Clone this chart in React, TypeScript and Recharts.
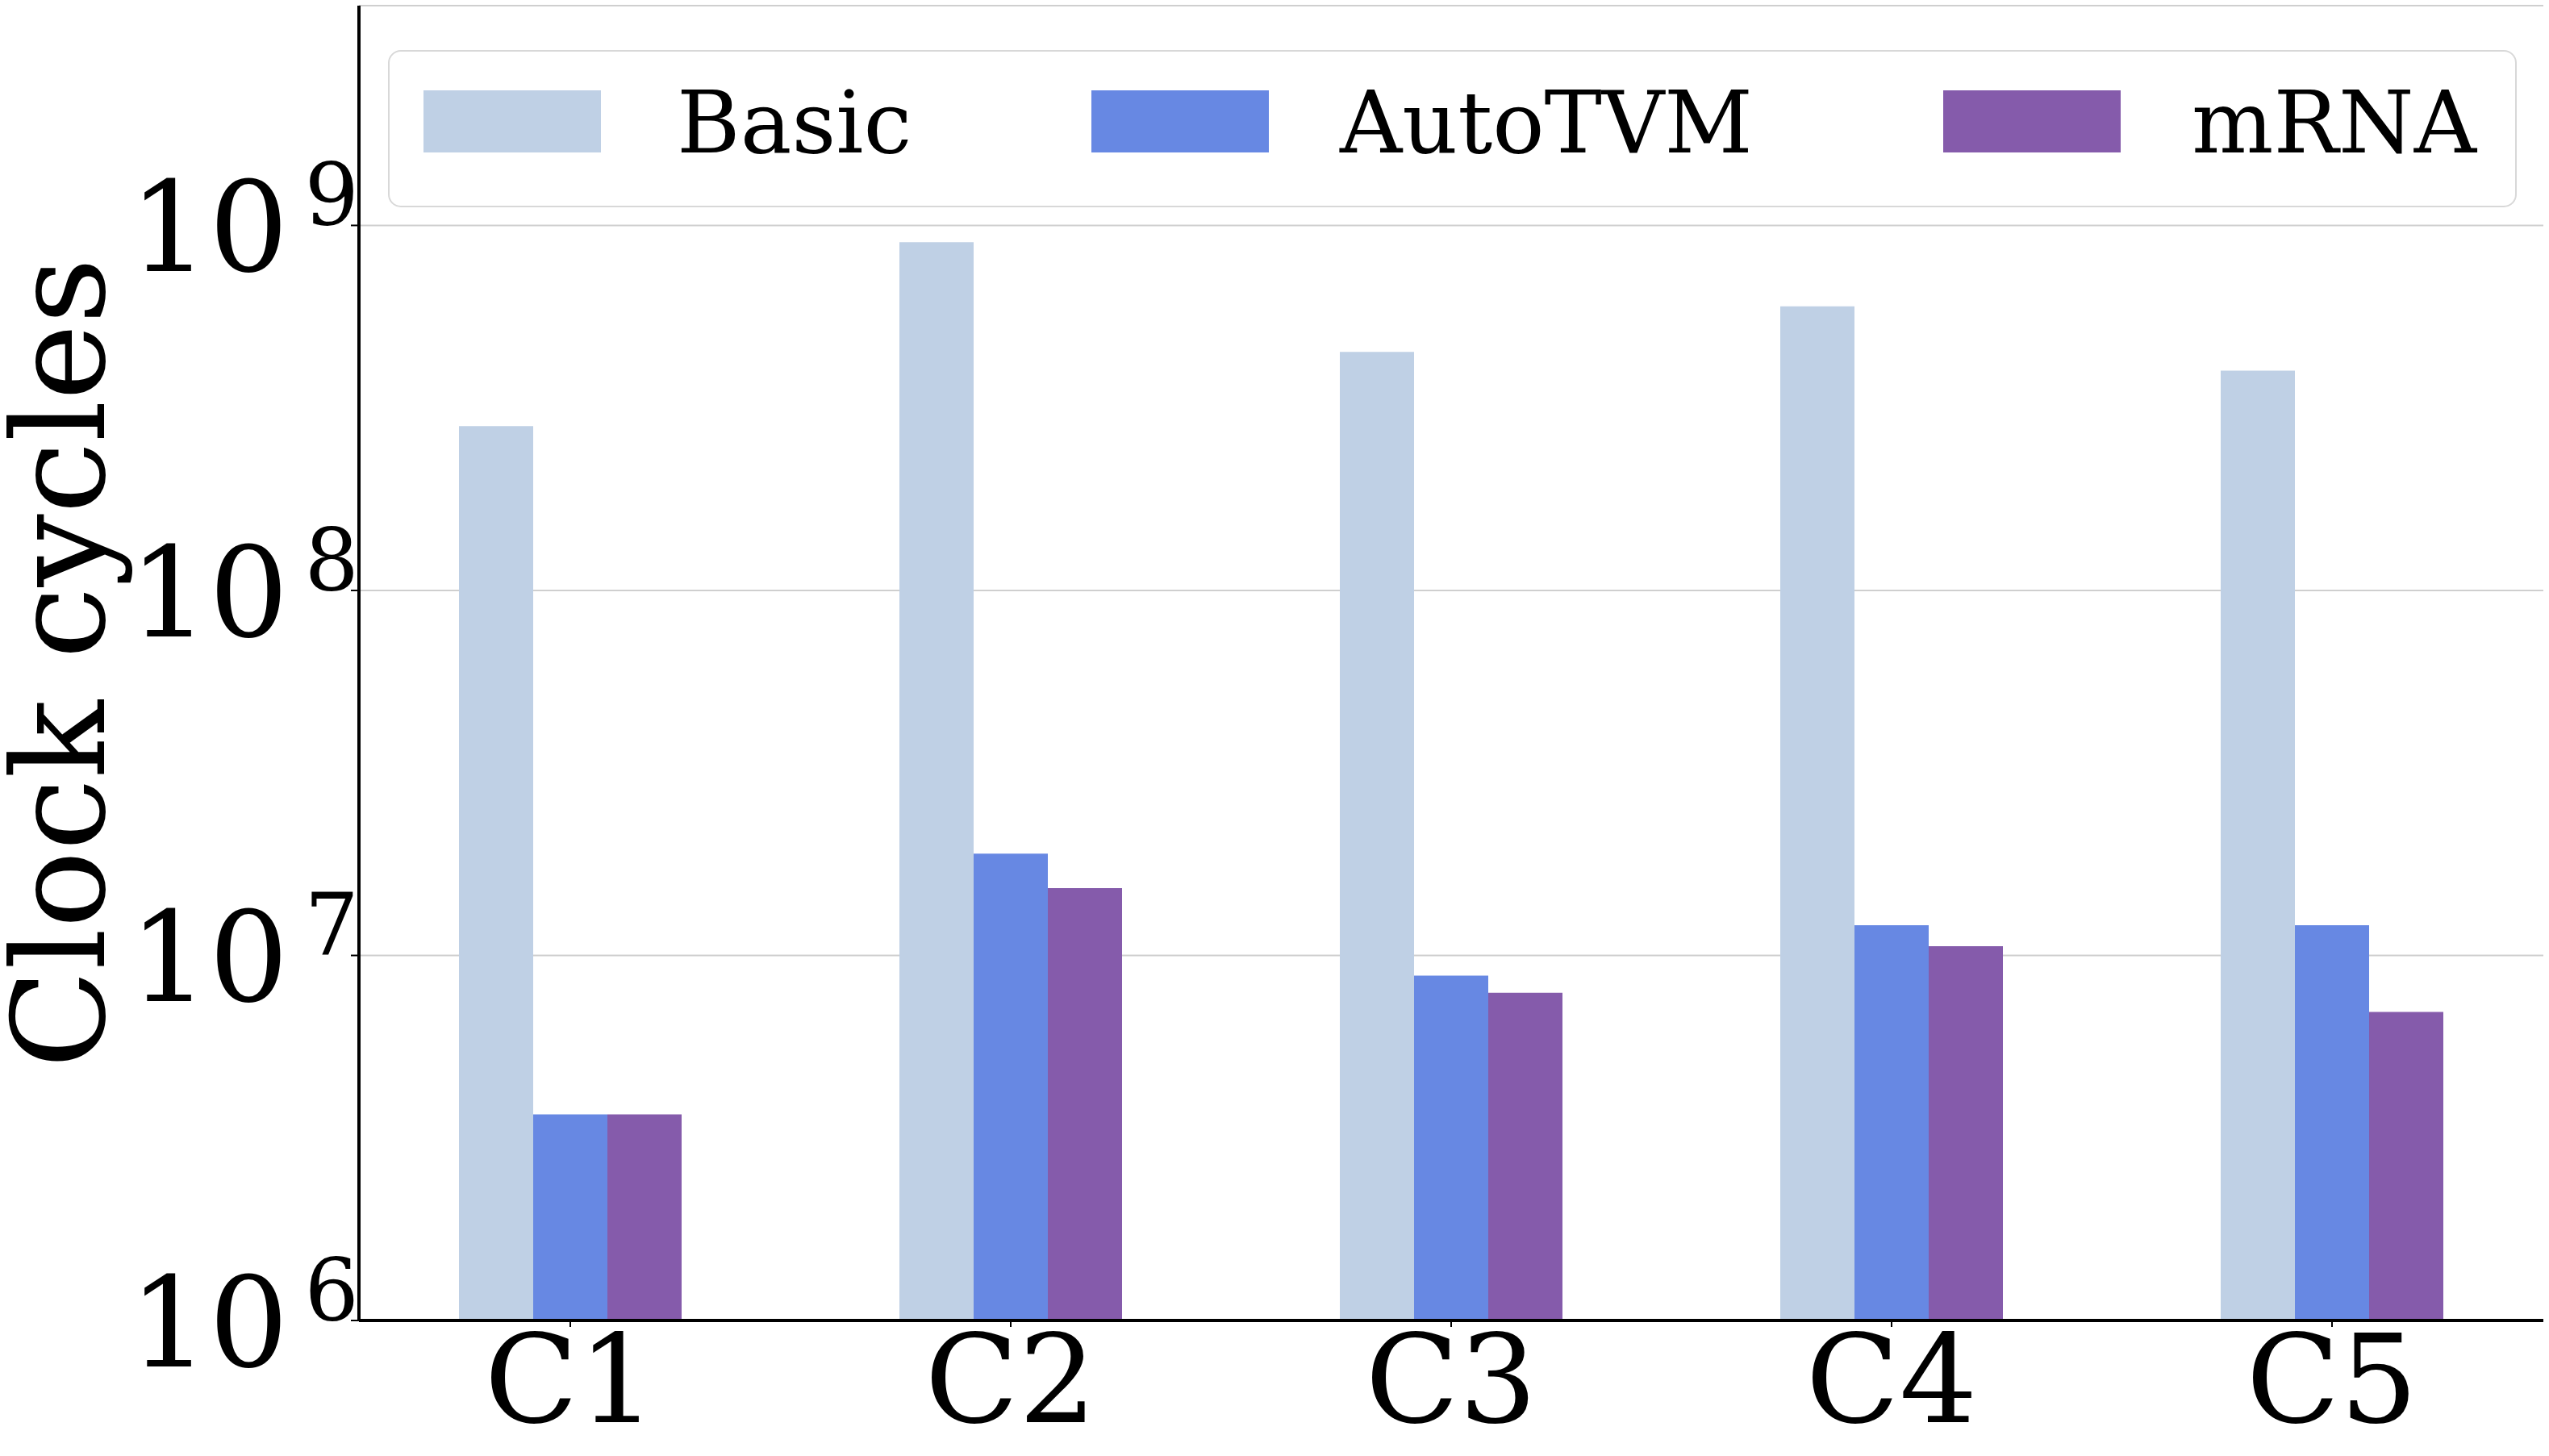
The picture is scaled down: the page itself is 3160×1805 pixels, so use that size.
import React from "react";
import { BarChart, Bar, XAxis, YAxis, CartesianGrid } from "recharts";

// values
const categories = ["C1", "C2", "C3", "C4", "C5"];
const basicCycles = [2.82e8, 9.0e8, 4.5e8, 6.0e8, 4.0e8];
const autoTvmCycles = [3.67e6, 1.9e7, 8.8e6, 1.21e7, 1.21e7];
const mrnaCycles = [3.67e6, 1.53e7, 7.9e6, 1.06e7, 7.0e6];
const yTicks = [1e6, 1e7, 1e8, 1e9];

const series = [
  { key: "basic", name: "Basic", color: "#bfd0e5" },
  { key: "autotvm", name: "AutoTVM", color: "#6788e3" },
  { key: "mrna", name: "mRNA", color: "#855bab" },
];

const data = categories.map((c, i) => ({
  name: c,
  basic: basicCycles[i],
  autotvm: autoTvmCycles[i],
  mrna: mrnaCycles[i],
}));

const FONT = "'DejaVu Serif', serif";

// legend layout (relative to legend box)
const swatchX = [42, 870, 1926];
const labelX = [356, 1178, 2234];

function LogTick(props: any) {
  const { x, y, payload } = props;
  const exp = Math.round(Math.log10(payload.value));
  return (
    <text x={x + 12} y={y + 57} textAnchor="end" fontFamily={FONT} fill="#000">
      <tspan fontSize={155}>10</tspan>
      <tspan fontSize={106} dx={20} dy={-58}>
        {exp}
      </tspan>
    </text>
  );
}

export default function App() {
  return (
    <div style={{ position: "relative", width: 3160, height: 1805, background: "#fff" }}>
      <style>{"body{margin:0}"}</style>
      <BarChart
        width={3160}
        height={1805}
        data={data}
        margin={{ top: 7, right: 7, bottom: 0, left: 0 }}
        barGap={0}
        barSize={92}
      >
        <CartesianGrid horizontal vertical={false} stroke="#cfcfcf" strokeWidth={2} />
        <XAxis
          dataKey="name"
          height={168}
          padding={{ left: -11, right: -11 }}
          axisLine={{ stroke: "#000", strokeWidth: 4 }}
          tickLine={{ stroke: "#000", strokeWidth: 2 }}
          tickSize={8}
          tickMargin={10}
          tick={{ fontSize: 152, fill: "#000", fontFamily: FONT }}
        />
        <XAxis
          xAxisId="top"
          dataKey="name"
          orientation="top"
          height={0}
          tick={false}
          tickLine={false}
          axisLine={{ stroke: "#000", strokeWidth: 4 }}
        />
        <YAxis
          scale="log"
          domain={[1e6, 4e9]}
          allowDataOverflow
          ticks={yTicks}
          width={445}
          axisLine={{ stroke: "#000", strokeWidth: 4 }}
          tickLine={{ stroke: "#000", strokeWidth: 2 }}
          tickSize={10}
          tick={<LogTick />}
          label={{
            value: "Clock cycles",
            angle: -90,
            position: "center",
            dx: -150,
            fontSize: 160,
            fontFamily: FONT,
            fill: "#000",
          }}
        />
        <YAxis
          yAxisId="right"
          orientation="right"
          width={0}
          tick={false}
          tickLine={false}
          axisLine={{ stroke: "#000", strokeWidth: 4 }}
        />
        {series.map((s) => (
          <Bar key={s.key} dataKey={s.key} name={s.name} fill={s.color} isAnimationActive={false} />
        ))}
      </BarChart>

      {/* legend box */}
      <div
        style={{
          position: "absolute",
          left: 481,
          top: 62,
          width: 2639,
          height: 195,
          boxSizing: "border-box",
          border: "2px solid #d8d8d8",
          borderRadius: 16,
          background: "rgba(255,255,255,0.8)",
        }}
      >
        <svg width={2635} height={191} style={{ display: "block" }}>
          {series.map((s, i) => (
            <g key={s.key}>
              <rect x={swatchX[i]} y={48} width={220} height={77} fill={s.color} />
              <text x={labelX[i]} y={125} fontSize={107} fontFamily={FONT} fill="#000">
                {s.name}
              </text>
            </g>
          ))}
        </svg>
      </div>
    </div>
  );
}
